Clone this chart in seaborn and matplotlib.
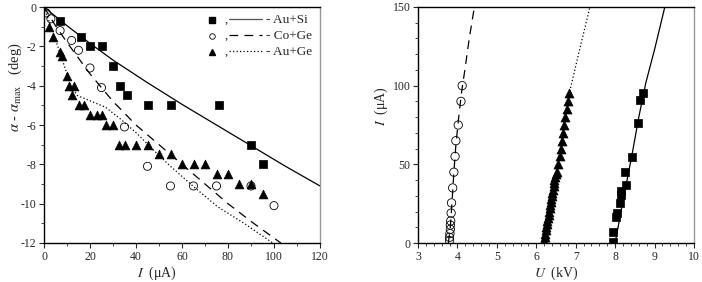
import matplotlib
matplotlib.use("Agg")
import matplotlib.pyplot as plt
import seaborn as sns
import numpy as np
import pandas as pd
from matplotlib.ticker import MultipleLocator

# ---------------- data: left panel (alpha - alpha_max vs I) ----------------
ausi_I = [7, 16, 20, 25, 30, 33, 36, 45, 55, 76, 90, 95]
ausi_a = [-0.7, -1.5, -2.0, -2.0, -3.0, -4.0, -4.5, -5.0, -5.0, -5.0, -7.0, -8.0]

coge_I = [1, 3, 7, 12, 15, 20, 25, 35, 45, 55, 65, 75, 90, 100]
coge_a = [-0.3, -0.6, -1.2, -1.7, -2.2, -3.1, -4.1, -6.1, -8.1, -9.1, -9.1, -9.1, -9.1, -10.1]

auge_I = [2, 4, 7, 8, 10, 11, 13, 12, 15, 17.5, 20, 23, 25, 27, 30, 32.5, 35, 40, 45,
          50, 55, 60, 65, 70, 75, 80, 85, 90, 95]
auge_a = [-1.0, -1.5, -2.3, -2.5, -3.5, -4.0, -4.0, -4.5, -5.0, -5.0, -5.5, -5.5, -5.5,
          -6.0, -6.0, -7.0, -7.0, -7.0, -7.0, -7.5, -7.5, -8.0, -8.0, -8.0, -8.5, -8.5,
          -9.0, -9.0, -9.5]

# fitted curves
ausi_fit_I = [0, 10, 20, 30, 45, 60, 75, 90, 105, 120]
ausi_fit_a = [0, -0.95, -1.85, -2.7, -3.85, -4.95, -6.0, -7.05, -8.1, -9.1]

coge_fit_I = [0, 5, 10, 15, 20, 25, 30, 40, 50, 60, 70, 80, 90, 100, 103]
coge_fit_a = [0, -0.95, -1.8, -2.6, -3.4, -4.1, -4.8, -6.0, -7.0, -8.0, -9.0, -10.0,
              -10.9, -11.75, -12.0]

auge_fit_I = [0, 3, 6, 9.4, 11.6, 14.5, 21.7, 26.8, 33.3, 40.6, 47.8, 55, 65.2, 75.4, 87, 99.5]
auge_fit_a = [0, -1.0, -2.0, -3.2, -4.0, -4.5, -4.85, -5.1, -5.7, -6.45, -7.3, -8.1,
              -9.15, -10.15, -11.0, -12.0]

# ---------------- data: right panel (I vs U) ----------------
co_U = [3.80, 3.80, 3.81, 3.82, 3.82, 3.83, 3.84, 3.85, 3.88, 3.91, 3.94, 3.96, 4.02, 4.09, 4.12]
co_I = [1.5, 3.6, 6, 8.7, 11.4, 14, 19, 25.5, 35, 45, 55, 65, 75, 90, 100]

ge_U = [6.20, 6.21, 6.22, 6.24, 6.25, 6.27, 6.28, 6.30, 6.31, 6.32, 6.34, 6.35, 6.37,
        6.38, 6.39, 6.41, 6.42, 6.44, 6.45, 6.46, 6.48, 6.50,
        6.52, 6.55, 6.59, 6.62, 6.65, 6.68, 6.71, 6.74, 6.77, 6.80, 6.84]
ge_I = [2, 4, 6, 8, 10, 12, 14, 16, 18, 20, 22, 24, 26, 28, 30, 32, 34, 36, 38, 40, 42, 44,
        45, 50, 55, 60, 65, 70, 75, 80, 85, 90, 95.5]

si_U = [7.95, 7.95, 8.01, 8.04, 8.12, 8.14, 8.14, 8.27, 8.25, 8.42, 8.57, 8.64, 8.71]
si_I = [0.5, 7.2, 16.7, 19.3, 25.2, 30.5, 33.0, 36.8, 45.2, 54.9, 76, 90.9, 95.5]

co_fit_U = [3.77, 3.82, 3.86, 3.91, 3.96, 4.02, 4.10, 4.20, 4.30, 4.43]
co_fit_I = [0, 10, 25, 45, 62, 77, 95, 112, 130, 150]

ge_fit_U = [6.17, 6.50, 6.84, 7.10, 7.36]
ge_fit_I = [0, 45, 95.5, 123, 150]

si_fit_U = [8.0, 8.2, 8.42, 8.6, 8.78, 9.0, 9.26]
si_fit_I = [0, 27, 55, 80, 102, 123, 150]

legend_labels = ["- Au+Si", "- Co+Ge", "- Au+Ge"]

# ---------------- styling ----------------
sns.set_style("white")
plt.rcParams["font.family"] = ["Liberation Serif", "DejaVu Serif"]
plt.rcParams["mathtext.fontset"] = "stix"
plt.rcParams["axes.linewidth"] = 1.0
plt.rcParams["axes.unicode_minus"] = False

fig = plt.figure(figsize=(7.02, 2.82), dpi=100)
axL = fig.add_axes([44 / 702, 1 - 243 / 282, 276 / 702, 236 / 282])
axR = fig.add_axes([418 / 702, 1 - 243 / 282, 276 / 702, 236 / 282])

lw = 0.9
dash_style = (0, (7, 5))
dot_style = (0, (1, 1.8))

# left panel lines
sns.lineplot(x=ausi_fit_I, y=ausi_fit_a, ax=axL, color="black", lw=lw, sort=False,
             estimator=None, zorder=1)
sns.lineplot(x=coge_fit_I, y=coge_fit_a, ax=axL, color="black", lw=lw, sort=False,
             estimator=None, linestyle=dash_style, zorder=1)
sns.lineplot(x=auge_fit_I, y=auge_fit_a, ax=axL, color="black", lw=lw, sort=False,
             estimator=None, linestyle=dot_style, zorder=1)

# left panel markers
sns.scatterplot(x=ausi_I, y=ausi_a, ax=axL, marker="s", s=30, color="black",
                edgecolor="black", linewidth=0.5, zorder=3)
sns.scatterplot(x=coge_I, y=coge_a, ax=axL, marker="o", s=34, facecolor="none",
                edgecolor="black", linewidth=0.6, zorder=3)
sns.scatterplot(x=auge_I, y=auge_a, ax=axL, marker="^", s=40, color="black",
                edgecolor="black", linewidth=0.5, zorder=3)

axL.set_xlim(0, 120)
axL.set_ylim(-12, 0)
axL.xaxis.set_major_locator(MultipleLocator(20))
axL.xaxis.set_minor_locator(MultipleLocator(10))
axL.yaxis.set_major_locator(MultipleLocator(2))
axL.yaxis.set_minor_locator(MultipleLocator(1))
axL.set_xlabel(r"$I$  (μA)", fontsize=10)
axL.set_ylabel(r"$\alpha$ - $\alpha_{\rm max}$   (deg)", fontsize=10.5)
axL.xaxis.set_label_coords(0.41, -0.09, transform=axL.transAxes)
axL.yaxis.set_label_coords(-0.072, 0.66, transform=axL.transAxes)

# manual legend in left panel
rows_y = [0.945, 0.877, 0.809]
mk = ["s", "o", "^"]
ls = ["-", dash_style, dot_style]
for yy, m, l, lab in zip(rows_y, mk, ls, legend_labels):
    if m == "o":
        axL.plot([0.61], [yy], marker=m, ms=4, mfc="white", mec="black", mew=0.6,
                 transform=axL.transAxes, clip_on=False)
    else:
        axL.plot([0.61], [yy], marker=m, ms=4, color="black",
                 transform=axL.transAxes, clip_on=False)
    axL.text(0.655, yy, ",", transform=axL.transAxes, fontsize=9, va="center", ha="left")
    axL.plot([0.672, 0.79], [yy + 0.005, yy + 0.005], color="black" if m != "s" else "#555555",
             lw=lw, linestyle=l, transform=axL.transAxes)
    axL.text(0.805, yy, lab, transform=axL.transAxes, fontsize=9.5, va="center", ha="left")

# right panel lines
sns.lineplot(x=co_fit_U, y=co_fit_I, ax=axR, color="black", lw=lw, sort=False,
             estimator=None, linestyle=dash_style, zorder=1)
sns.lineplot(x=ge_fit_U, y=ge_fit_I, ax=axR, color="black", lw=lw, sort=False,
             estimator=None, linestyle=dot_style, zorder=1)
sns.lineplot(x=si_fit_U, y=si_fit_I, ax=axR, color="black", lw=lw, sort=False,
             estimator=None, zorder=1)

sns.scatterplot(x=co_U, y=co_I, ax=axR, marker="o", s=36, facecolor="none",
                edgecolor="black", linewidth=0.6, zorder=3)
sns.scatterplot(x=ge_U, y=ge_I, ax=axR, marker="^", s=42, color="black",
                edgecolor="black", linewidth=0.5, zorder=3)
sns.scatterplot(x=si_U, y=si_I, ax=axR, marker="s", s=36, color="black",
                edgecolor="black", linewidth=0.5, zorder=3)

axR.set_xlim(3, 10)
axR.set_ylim(0, 150)
axR.xaxis.set_major_locator(MultipleLocator(1))
axR.xaxis.set_minor_locator(MultipleLocator(0.2))
axR.yaxis.set_major_locator(MultipleLocator(50))
axR.yaxis.set_minor_locator(MultipleLocator(10))
axR.set_xlabel(r"$U$  (kV)", fontsize=10)
axR.set_ylabel(r"$I$  (μA)", fontsize=10)
axR.xaxis.set_label_coords(0.5, -0.09, transform=axR.transAxes)
axR.yaxis.set_label_coords(-0.1, 0.58, transform=axR.transAxes)

for ax in (axL, axR):
    ax.tick_params(which="major", direction="out", length=3.5, width=0.8,
                   labelsize=8.5, pad=2, bottom=True, left=True, top=False, right=False)
    ax.tick_params(which="minor", direction="out", length=2, width=0.6,
                   bottom=True, left=True, top=False, right=False)
    for s in ("left", "bottom", "top"):
        ax.spines[s].set_color("black")
    ax.spines["right"].set_color("#999999")
    ax.set_facecolor("white")

fig.savefig("out.png", dpi=100, facecolor="white")
